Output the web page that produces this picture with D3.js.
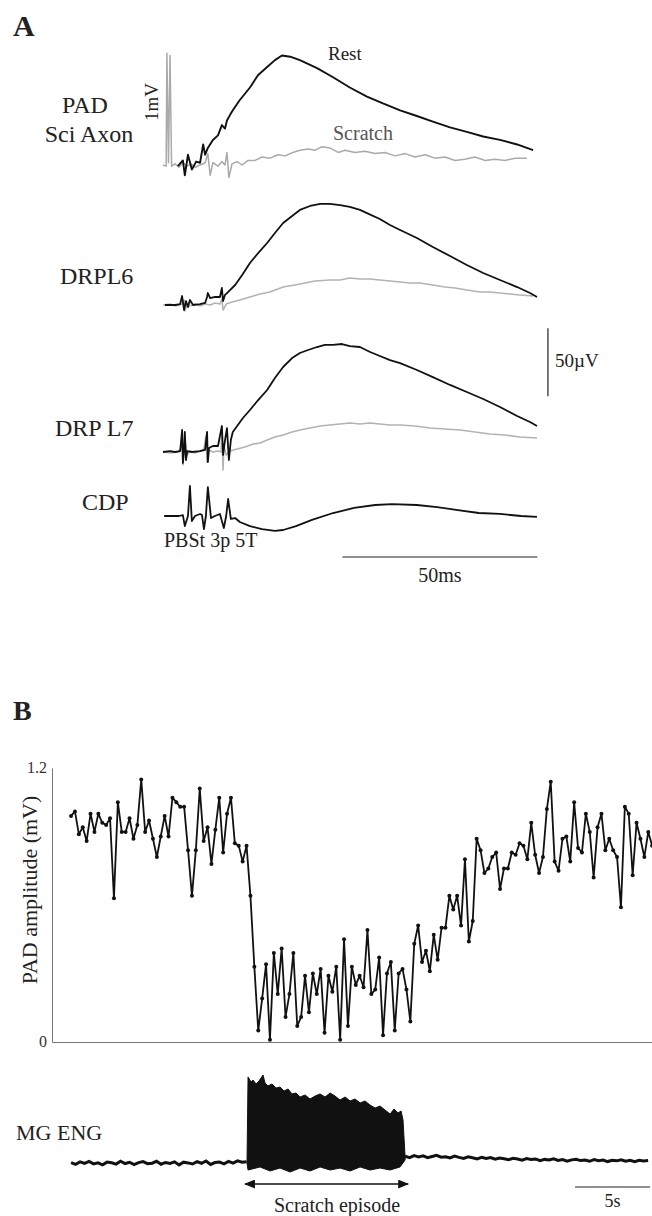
<!DOCTYPE html>
<html><head><meta charset="utf-8">
<script src="https://cdn.jsdelivr.net/npm/d3@7"></script>
<style>
body{margin:0;background:#fff}
svg{display:block}
text{font-family:"Liberation Serif","Times New Roman",serif;fill:#222}
</style>
</head><body>
<svg id="c" width="652" height="1216"></svg>
<script>
// ---------- Panel A data: [time (ms), amplitude] ----------
const padRest = [[3.8,-0.01],[5.1,0.04],[5.6,-0.09],[6.4,0.09],[7.4,-0.04],[8.5,0.03],[9.5,0.02],[10.3,0.18],[10.8,0.09],[11.5,0.15],[12.8,0.22],[14.1,0.26],[15.1,0.35],[15.9,0.32],[16.4,0.39],[17.2,0.44],[17.9,0.48],[19.7,0.57],[22.3,0.68],[24.4,0.79],[26.7,0.86],[28.7,0.92],[30.5,0.96],[32.6,0.95],[35.1,0.92],[39.5,0.85],[43.6,0.77],[47.9,0.68],[52.3,0.60],[56.4,0.54],[60.8,0.48],[65.1,0.43],[69.2,0.38],[73.6,0.33],[77.9,0.29],[82.1,0.25],[86.4,0.22],[90.8,0.18],[94.9,0.13]];
const padScratch = [[0,0],[0.8,-0.01],[1.0,0.98],[1.4,0.02],[1.8,0.96],[2.2,-0.01],[3.1,0.01],[4.1,-0.02],[5.1,0.02],[6.2,-0.01],[7.2,0.01],[8.2,-0.02],[9.5,0],[10.8,0.02],[11.5,0.10],[12.1,-0.09],[12.8,0.02],[14.1,-0.01],[15.1,0.03],[15.9,0],[16.4,0.11],[16.9,-0.11],[17.7,0.01],[19.0,0.03],[20.3,0],[21.8,0.04],[23.6,0.04],[25.4,0.07],[27.4,0.06],[29.5,0.09],[31.3,0.08],[33.3,0.11],[35.1,0.13],[37.2,0.14],[39.0,0.13],[40.8,0.16],[42.8,0.15],[44.9,0.11],[46.7,0.13],[49.2,0.11],[51.8,0.12],[54.4,0.10],[56.9,0.11],[59.5,0.08],[62.1,0.10],[64.6,0.07],[67.2,0.09],[69.7,0.06],[72.3,0.07],[74.9,0.04],[77.4,0.05],[80.0,0.07],[82.6,0.04],[85.1,0.05],[87.7,0.04],[90.3,0.06],[93.3,0.06]];
const l6Rest = [[0.5,0],[3.1,0],[4.4,0.7],[4.9,6.6],[5.4,-3.7],[5.9,2.9],[6.4,-1.5],[6.9,3.7],[7.7,0],[9.5,0.7],[10.8,1.5],[11.3,5.9],[11.5,8.8],[12.1,5.1],[13.3,5.9],[14.6,5.9],[15.1,12.5],[15.4,2.9],[15.9,7.4],[16.4,8.8],[18.5,14.7],[20.3,22.1],[22.3,30.9],[24.4,38.2],[26.7,45.6],[28.7,52.9],[30.8,60.3],[33.1,65.4],[35.1,69.9],[37.7,72.8],[40.3,74.3],[42.8,74.3],[45.4,73.5],[47.9,72.1],[50.5,69.9],[52.3,67.6],[55.6,63.2],[58.2,58.8],[60.8,55.1],[65.1,49.3],[69.2,42.6],[73.6,36.0],[77.9,29.4],[82.1,23.5],[86.4,18.4],[90.8,13.2],[94.1,8.8],[95.9,5.9]];
const l6Scratch = [[0,0],[1.8,0.7],[3.3,-0.7],[4.9,0.7],[5.4,3.7],[5.6,-4.4],[6.2,0.7],[6.9,-0.7],[8.2,0.7],[9.5,-0.7],[10.8,0.7],[12.1,0],[13.3,1.5],[14.6,0.7],[15.1,4.4],[15.4,-3.7],[16.2,0.7],[17.7,2.2],[19.7,3.7],[22.3,5.9],[24.9,8.1],[27.4,9.6],[30.8,13.2],[33.8,14.7],[36.4,16.2],[39.0,17.6],[42.8,18.4],[45.4,18.4],[47.9,19.9],[50.5,19.1],[53.1,19.1],[55.6,18.4],[58.2,17.6],[60.8,16.9],[63.3,16.2],[65.9,16.2],[69.2,14.7],[72.3,13.2],[74.9,12.5],[77.9,11.0],[81.3,9.6],[83.8,9.6],[86.4,8.8],[89.0,8.1],[91.5,7.4],[94.9,6.6]];
const l7Rest = [[0,0],[1.8,0.7],[3.1,0],[4.4,0.7],[4.9,16.2],[5.1,-8.1],[5.4,1.5],[5.6,14.7],[5.9,-5.9],[6.2,0.7],[7.4,0],[9.5,0.7],[10.8,1.5],[11.3,14.7],[11.5,-7.4],[11.8,2.9],[12.8,4.4],[14.1,4.4],[15.1,19.1],[15.4,-2.2],[15.9,8.8],[16.4,17.6],[16.9,-5.9],[17.4,8.8],[17.9,14.7],[19.2,19.9],[20.5,25.0],[22.3,30.9],[24.4,38.2],[26.7,45.6],[28.7,54.4],[30.8,62.5],[33.1,69.1],[35.1,72.8],[37.2,75.0],[39.5,77.2],[41.5,78.7],[43.6,78.7],[45.9,79.4],[47.9,77.9],[50.5,77.2],[53.1,73.5],[55.6,70.6],[58.2,67.6],[60.8,65.4],[65.1,60.3],[69.2,55.1],[73.6,49.3],[77.9,44.1],[82.1,39.0],[86.4,33.1],[90.8,26.5],[94.1,22.1],[95.9,19.1]];
const l7Scratch = [[0,0],[1.8,-0.7],[3.8,0],[4.6,2.9],[4.9,12.5],[5.1,-9.6],[5.6,8.8],[6.2,-2.2],[6.9,0.7],[8.2,-0.7],[9.5,0.7],[10.5,2.2],[11.0,11.8],[11.3,-7.4],[11.8,1.5],[12.8,0],[14.1,0.7],[14.9,0],[15.1,16.2],[15.4,-13.2],[15.6,5.1],[16.2,-2.2],[17.2,0.7],[19.0,2.2],[21.0,3.7],[23.1,5.9],[24.9,6.6],[26.7,8.8],[28.7,11.0],[30.8,12.5],[33.1,14.7],[35.1,16.2],[37.7,17.6],[40.3,19.1],[42.8,19.9],[45.4,20.6],[47.9,21.3],[50.5,20.6],[53.1,21.3],[55.6,20.6],[58.2,19.9],[60.8,19.9],[64.6,19.1],[68.5,17.6],[72.3,16.9],[76.2,16.2],[80.0,14.7],[83.8,13.2],[87.7,12.5],[91.5,11.0],[95.9,10.3]];
const cdp = [[0.3,0],[4.1,0],[5.1,0.7],[5.6,-7.4],[6.4,0],[6.9,22.1],[7.4,-3.7],[8.2,0],[9.5,1.5],[10.0,0.7],[10.5,-9.6],[11.0,0],[11.5,21.3],[12.3,-1.5],[13.3,0],[14.6,1.5],[15.6,-8.8],[16.2,0],[16.7,12.5],[17.4,-2.2],[18.5,-1.5],[19.7,-4.4],[22.3,-7.4],[25.4,-9.6],[28.7,-11.0],[30.8,-10.3],[34.1,-7.4],[38.2,-2.9],[43.6,2.2],[49.0,5.9],[54.4,8.1],[58.7,8.8],[65.1,8.1],[70.3,6.6],[75.6,4.4],[81.0,2.2],[86.4,1.5],[91.8,0],[95.9,-0.7]];
const msBar = [46, 96];      // 50 ms
const uvBar = [41, 91];      // 50 µV (DRP L7 units)
const uvBarTime = 98.7;

// ---------- Panel B data ----------
const PAD_DT = 0.26; // s between PAD tests
const padAmp = [0.99,1.01,0.91,0.94,0.88,1.00,0.92,1.00,0.96,0.95,0.98,0.63,1.05,0.92,0.92,0.98,0.89,0.95,1.15,0.92,0.97,0.89,0.81,0.90,0.99,0.90,1.07,1.05,1.03,1.03,0.84,0.64,0.84,1.11,0.88,0.94,0.78,0.93,1.07,0.83,1.00,1.07,0.87,0.86,0.79,0.86,0.64,0.33,0.05,0.19,0.34,0.01,0.39,0.21,0.41,0.11,0.21,0.39,0.07,0.11,0.29,0.13,0.30,0.21,0.32,0.04,0.29,0.22,0.33,0.01,0.45,0.07,0.33,0.25,0.29,0.24,0.49,0.21,0.23,0.37,0.03,0.30,0.35,0.05,0.30,0.32,0.23,0.09,0.43,0.51,0.35,0.40,0.31,0.47,0.36,0.50,0.50,0.64,0.58,0.64,0.51,0.80,0.44,0.53,0.89,0.84,0.74,0.76,0.81,0.83,0.67,0.76,0.76,0.83,0.82,0.87,0.86,0.80,0.96,0.82,0.74,0.81,1.02,1.14,0.79,0.75,0.89,0.90,0.79,1.05,0.85,0.83,1.00,0.92,0.72,0.94,1.00,0.84,0.89,0.84,0.81,0.59,1.03,1.00,0.73,0.96,0.89,0.81,0.92,0.86];
const yTicksB = [0, 1.2];
const ENG_DT = 0.3; // s between plotted ENG baseline samples
const engPreStart = 0;
const engPre = [0.5,-1.5,1.2,-0.4,1.8,-1.0,0.2,-2.0,1.0,0.3,-1.2,2.0,-0.6,0.8,-1.8,0.4,1.5,-0.8,-0.2,1.9,-1.4,0.6,-0.5,1.3,-2.1,0.9,0.1,-1.1,1.6,-0.3,2.2,-1.6,0.5,1.0,-0.9,1.7,-0.2,2.4,0.8,1.5];
const engPostStart = 22.27;
const engPost = [7.5,6.0,8.2,6.8,7.9,5.9,7.2,8.5,6.4,7.0,5.6,7.7,6.2,5.1,6.9,5.8,4.6,6.3,5.0,6.1,4.2,5.5,4.8,3.6,5.2,4.4,3.1,4.9,3.8,4.5,2.6,4.0,3.3,4.7,2.8,3.9,2.1,3.5,4.2,2.7,3.4,1.9,3.8,2.5,3.2,1.6,3.0,2.4,3.6,2.0,2.9,1.4,3.1,2.2,2.8];
const burstTop = [[11.73,0],[11.8,95.6],[12.0,90],[12.13,92.2],[12.33,87.8],[12.53,91.1],[12.8,97.8],[12.93,88.9],[13.13,85.6],[13.4,87.8],[13.67,83.3],[13.93,84.4],[14.2,80],[14.47,82.2],[14.73,76.7],[15.0,77.8],[15.27,73.3],[15.6,75.6],[15.93,71.1],[16.27,74.4],[16.6,76.7],[16.93,73.3],[17.27,77.8],[17.6,74.4],[17.93,70],[18.27,73.3],[18.6,68.9],[18.93,71.1],[19.27,66.7],[19.6,68.9],[19.93,64.4],[20.27,61.1],[20.6,63.3],[20.93,58.9],[21.27,54.4],[21.53,60],[21.8,55.6],[22.0,57.8],[22.13,47.8],[22.27,6.7]];
const burstBottom = [[11.8,-7.8],[12.6,-4.4],[13.27,-8.9],[13.93,-5.6],[14.6,-10],[15.27,-5.6],[15.93,-8.9],[16.6,-4.4],[17.27,-7.8],[17.93,-5.6],[18.6,-8.9],[19.27,-4.4],[19.93,-7.8],[20.6,-5.6],[21.27,-7.8],[21.93,-4.4],[22.27,3.3]];
const scratchEpisode = [11.6, 22.47];
const sBar = [33.6, 38.6]; // 5 s

// ---------- drawing ----------
const svg = d3.select("#c");
const xA = d3.scaleLinear().domain([0,100]).range([163,553]);
const yPAD = d3.scaleLinear().domain([0,1]).range([165,51]);
const yL6 = d3.scaleLinear().domain([0,50]).range([305,237]);
const yL7 = d3.scaleLinear().domain([0,50]).range([452,384]);
const yCDP = d3.scaleLinear().domain([0,50]).range([516,448]);

function trace(data, y, color, w){
  svg.append("path").datum(data)
    .attr("d", d3.line().x(d=>xA(d[0])).y(d=>y(d[1])))
    .attr("fill","none").attr("stroke",color).attr("stroke-width",w)
    .attr("stroke-linejoin","round");
}
function txt(x,y,s,size,opt={}){
  const t = svg.append("text").attr("x",x).attr("y",y).text(s).attr("font-size",size);
  if(opt.anchor) t.attr("text-anchor",opt.anchor);
  if(opt.weight) t.attr("font-weight",opt.weight);
  if(opt.fill) t.style("fill",opt.fill);
  if(opt.rot) t.attr("transform",`rotate(-90,${x},${y})`);
  return t;
}

const GRAY = "#b3b3b3";
trace(padScratch, yPAD, "#aaa", 1.5);
trace(padRest, yPAD, "#111", 1.9);
trace(l6Scratch, yL6, GRAY, 1.6);
trace(l6Rest, yL6, "#111", 1.8);
trace(l7Scratch, yL7, GRAY, 1.6);
trace(l7Rest, yL7, "#111", 1.8);
trace(cdp, yCDP, "#111", 1.8);

// scale bars A
svg.append("line").attr("x1",xA(uvBarTime)).attr("x2",xA(uvBarTime))
  .attr("y1",yL7(uvBar[0])).attr("y2",yL7(uvBar[1])).attr("stroke","#222").attr("stroke-width",1.2);
svg.append("line").attr("x1",xA(msBar[0])).attr("x2",xA(msBar[1]))
  .attr("y1",557).attr("y2",557).attr("stroke","#222").attr("stroke-width",1.2);

// labels A
txt(13,36,"A",30,{weight:"bold"});
txt(85,113,"PAD",24,{anchor:"middle"});
txt(89,142,"Sci Axon",24,{anchor:"middle"});
txt(158,102,"1mV",19,{anchor:"middle",rot:true});
txt(328,60,"Rest",19);
txt(333,140,"Scratch",20,{fill:"#555"});
txt(60,284,"DRPL6",24);
txt(55,436,"DRP L7",24);
txt(555,367,"50\u00b5V",19);
txt(82,510,"CDP",24);
txt(164,547,"PBSt 3p 5T",20);
txt((xA(msBar[0])+xA(msBar[1]))/2,582,"50ms",20,{anchor:"middle"});

// ---------- Panel B ----------
const xB = d3.scaleLinear().domain([-1.27,38.73]).range([52,652]);
const yB = d3.scaleLinear().domain([0,1.2]).range([1042,768]);

const yAx = svg.append("g").attr("transform",`translate(${xB(-1.27)},0)`)
  .call(d3.axisLeft(yB).tickValues(yTicksB).tickSize(0).tickPadding(5).tickFormat(d=>d===0?"0":d3.format(".1f")(d)));
yAx.select(".domain").attr("stroke","#777");
yAx.selectAll("text").attr("font-size",16).attr("font-family","Liberation Serif, serif").style("fill","#333").attr("dy","0.25em");
const xAx = svg.append("g").attr("transform",`translate(0,${yB(0)})`)
  .call(d3.axisBottom(xB).tickValues([]).tickSizeOuter(0));
xAx.select(".domain").attr("stroke","#777");

const padPts = padAmp.map((v,i)=>[i*PAD_DT, v]);
svg.append("path").datum(padPts)
  .attr("d", d3.line().x(d=>xB(d[0])).y(d=>yB(d[1])))
  .attr("fill","none").attr("stroke","#111").attr("stroke-width",1.8).attr("stroke-linejoin","round");
svg.selectAll("circle.pt").data(padPts).join("circle").attr("class","pt")
  .attr("cx",d=>xB(d[0])).attr("cy",d=>yB(d[1])).attr("r",2).attr("fill","#111");

txt(13,720,"B",28,{weight:"bold"});
txt(37,890,"PAD amplitude (mV)",22,{anchor:"middle",rot:true});

// ENG
const yE = d3.scaleLinear().domain([0,100]).range([1163,1073]);
const lineE = d3.line().x(d=>xB(d[0])).y(d=>yE(d[1]));
svg.append("path").datum(burstTop.concat(burstBottom.slice().reverse()))
  .attr("d", d=>lineE(d)+"Z").attr("fill","#111").attr("stroke","#111").attr("stroke-width",1);
const preSeries = engPre.map((v,i)=>[engPreStart+i*ENG_DT, v]);
const postSeries = engPost.map((v,i)=>[engPostStart+i*ENG_DT, v]);
svg.append("path").datum(preSeries).attr("d",lineE).attr("fill","none").attr("stroke","#111").attr("stroke-width",3);
svg.append("path").datum(postSeries).attr("d",lineE).attr("fill","none").attr("stroke","#111").attr("stroke-width",3);

txt(16,1140,"MG ENG",22);

// arrow
const defs = svg.append("defs");
defs.append("marker").attr("id","ah").attr("viewBox","0 0 10 8").attr("refX",9).attr("refY",4)
  .attr("markerWidth",11).attr("markerHeight",9).attr("markerUnits","userSpaceOnUse")
  .attr("orient","auto-start-reverse")
  .append("path").attr("d","M0,0L10,4L0,8Z").attr("fill","#111");
svg.append("line").attr("x1",xB(scratchEpisode[0])).attr("x2",xB(scratchEpisode[1]))
  .attr("y1",1184).attr("y2",1184).attr("stroke","#111").attr("stroke-width",1.6)
  .attr("marker-start","url(#ah)").attr("marker-end","url(#ah)");
txt(337,1212,"Scratch episode",20,{anchor:"middle"});

svg.append("line").attr("x1",xB(sBar[0])).attr("x2",xB(sBar[1]))
  .attr("y1",1187).attr("y2",1187).attr("stroke","#222").attr("stroke-width",1.2);
txt((xB(sBar[0])+xB(sBar[1]))/2,1207,"5s",18,{anchor:"middle"});
</script>
</body></html>
